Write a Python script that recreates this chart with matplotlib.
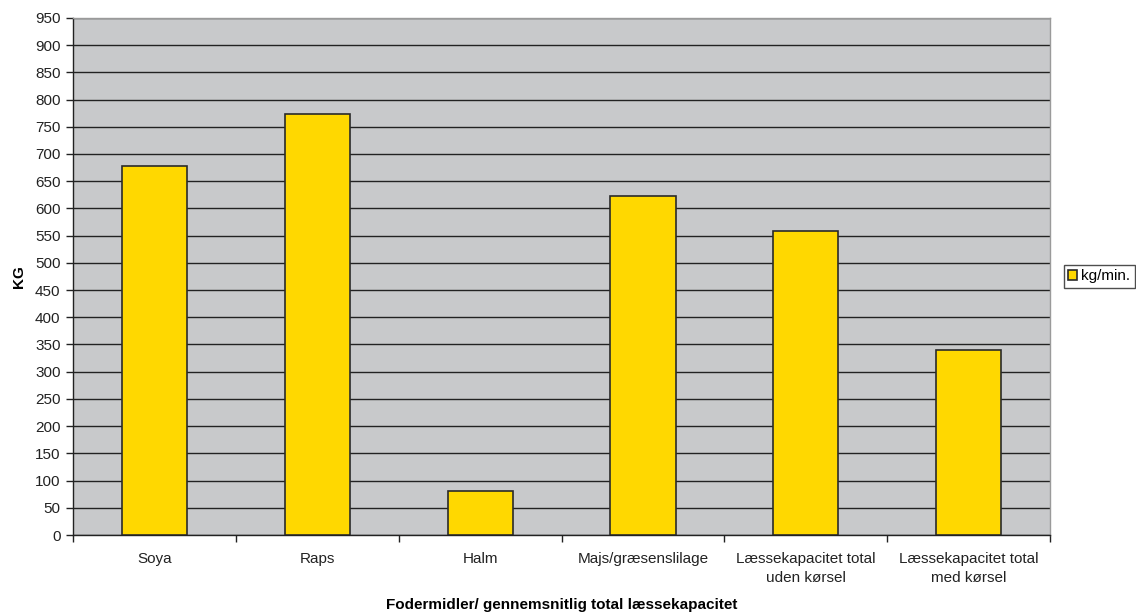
import matplotlib
matplotlib.use("Agg")
import matplotlib.pyplot as plt
import numpy as np

plt.rcParams['font.family'] = ['Liberation Sans', 'DejaVu Sans']

categories = ["Soya", "Raps", "Halm", "Majs/græsenslilage",
              "Læssekapacitet total\nuden kørsel", "Læssekapacitet total\nmed kørsel"]
values = [677, 774, 81, 623, 559, 340]
series_name = "kg/min."
y_ticks = list(range(0, 951, 50))

fig = plt.figure(figsize=(11.36, 6.12), dpi=100)
ax = fig.add_axes([0.0643, 0.1258, 0.86, 0.845])
ax.set_facecolor("#c8c9cb")

x = np.arange(len(categories))
ax.bar(x, values, width=0.4, color="#ffd800", edgecolor="#2a2a2a",
       linewidth=1.2, label=series_name, zorder=3)

ax.set_xlim(-0.5, len(categories) - 0.5)
ax.set_ylim(0, 950)
ax.set_yticks(y_ticks)
ax.yaxis.grid(True, color="#222222", linewidth=1.0, zorder=1)
ax.set_axisbelow(True)

# category labels centred, ticks at category boundaries
ax.set_xticks(x)
ax.set_xticklabels(categories, fontsize=11, color="#222222", linespacing=1.45)
ax.tick_params(axis="x", length=0, pad=12)
ax.set_xticks(np.arange(-0.5, len(categories), 1.0), minor=True)
ax.tick_params(axis="x", which="minor", length=5, color="#222222", width=1)
ax.tick_params(axis="y", length=5, color="#222222", width=1, labelsize=11,
               labelcolor="#222222", pad=4)

for side in ["left", "bottom"]:
    ax.spines[side].set_color("#222222")
    ax.spines[side].set_linewidth(1.0)
for side in ["top", "right"]:
    ax.spines[side].set_color("#9a9a9a")
    ax.spines[side].set_linewidth(1.0)

ax.set_ylabel("KG", fontsize=11, fontweight="bold")
ax.yaxis.set_label_coords(-0.048, 0.5)
ax.set_xlabel("Fodermidler/ gennemsnitlig total læssekapacitet",
              fontsize=11, fontweight="bold")
ax.xaxis.set_label_coords(0.5, -0.122)

leg = ax.legend(loc="center left", bbox_to_anchor=(1.014, 0.5), frameon=True,
                fancybox=False, edgecolor="#222222", fontsize=11,
                handlelength=0.6, handleheight=0.6, handletextpad=0.25,
                borderpad=0.3, borderaxespad=0)
leg.get_frame().set_linewidth(1.0)

fig.savefig("out.png", dpi=100, facecolor="white")
